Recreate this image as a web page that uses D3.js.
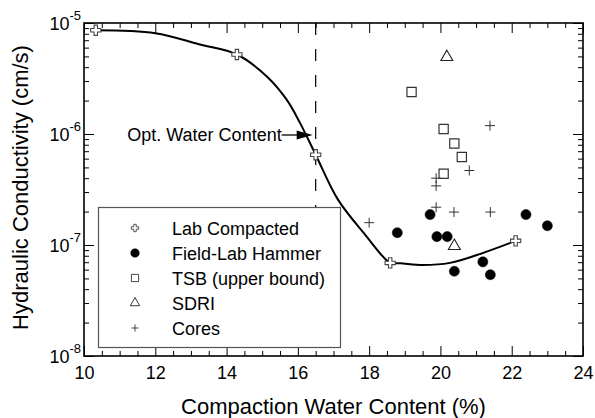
<!DOCTYPE html>
<html>
<head>
<meta charset="utf-8">
<script src="https://cdn.jsdelivr.net/npm/d3@7"></script>
<style>
  html, body { margin: 0; padding: 0; background: #fff; }
  svg { display: block; font-family: "Liberation Sans", Arial, Helvetica, sans-serif; }
</style>
</head>
<body>
<svg id="chart" width="595" height="418"></svg>
<script>
// Compaction water content (%) vs hydraulic conductivity (cm/s)

// Lab compacted specimens
const labW = [10.33, 14.29, 16.5, 18.59, 22.11];
const labK = [8.6e-6, 5.2e-6, 6.5e-7, 6.9e-8, 1.09e-7];

// Trend curve drawn through the lab compacted results
const fitW = [10.33, 12.0, 13.25, 14.29, 15.13, 15.69, 16.06, 16.5, 17.13, 17.93, 18.39, 18.59, 18.87, 19.5, 20.27, 21.2, 22.11];
const fitK = [8.6e-6, 8.1e-6, 6.4e-6, 5.2e-6, 3.3e-6, 2.03e-6, 1.26e-6, 6.5e-7, 2.55e-7, 1.19e-7, 7.85e-8, 6.9e-8, 6.85e-8, 6.6e-8, 6.9e-8, 8.5e-8, 1.09e-7];

// Field-lab hammer
const hamW = [18.79, 19.71, 19.90, 20.19, 20.39, 21.19, 21.40, 22.40, 23.0];
const hamK = [1.29e-7, 1.88e-7, 1.19e-7, 1.19e-7, 5.8e-8, 7.05e-8, 5.4e-8, 1.88e-7, 1.49e-7];

// Two-stage borehole (upper bound)
const tsbW = [19.19, 20.09, 20.39, 20.60, 20.09];
const tsbK = [2.39e-6, 1.11e-6, 8.2e-7, 6.2e-7, 4.38e-7];

// Sealed double-ring infiltrometer
const sdriW = [20.18, 20.39];
const sdriK = [4.93e-6, 9.8e-8];

// Cores
const coreW = [21.39, 20.81, 19.88, 19.88, 19.88, 20.38, 21.40, 18.0];
const coreK = [1.19e-6, 4.69e-7, 4.0e-7, 3.41e-7, 2.19e-7, 1.98e-7, 1.98e-7, 1.59e-7];

// Optimum water content
const optW = 16.5;

// Axis ticks
const xMajor = [10, 12, 14, 16, 18, 20, 22, 24];
const xMinor = d3.range(10.5, 24, 0.5).filter(v => v % 2 !== 0);
const yMajor = [1e-8, 1e-7, 1e-6, 1e-5];
const yExp = ["-8", "-7", "-6", "-5"];
const yMinor = [-8, -7, -6].flatMap(e => d3.range(2, 10).map(mm => mm * Math.pow(10, e)));

const legendLabels = ["Lab Compacted", "Field-Lab Hammer", "TSB (upper bound)", "SDRI", "Cores"];

const svg = d3.select("#chart");
const plot = { left: 84, right: 583, top: 23, bottom: 356 };

const x = d3.scaleLinear().domain([10, 24]).range([plot.left, plot.right]);
const y = d3.scaleLog().domain([1e-8, 1e-5]).range([plot.bottom, plot.top]);

const FONT = '"Liberation Sans", Arial, Helvetica, sans-serif';

function styleAxis(g) {
  g.select(".domain").remove();
  g.attr("font-family", FONT);
  g.selectAll(".tick line").attr("stroke", "#000").attr("stroke-width", 1);
}

// Bottom axis
svg.append("g").attr("transform", `translate(0,${plot.bottom})`)
  .call(d3.axisBottom(x).tickValues(xMinor).tickSize(-5).tickFormat(""))
  .call(styleAxis);
svg.append("g").attr("transform", `translate(0,${plot.bottom})`)
  .call(d3.axisBottom(x).tickValues(xMajor).tickSize(-10).tickPadding(10).tickFormat(d3.format("d")))
  .call(styleAxis)
  .call(g => g.selectAll(".tick text").attr("font-size", 18).attr("fill", "#000"));

// Top axis (mirrored ticks)
svg.append("g").attr("transform", `translate(0,${plot.top})`)
  .call(d3.axisTop(x).tickValues(xMinor).tickSize(-5).tickFormat(""))
  .call(styleAxis);
svg.append("g").attr("transform", `translate(0,${plot.top})`)
  .call(d3.axisTop(x).tickValues(xMajor).tickSize(-10).tickFormat(""))
  .call(styleAxis);

// Left axis
svg.append("g").attr("transform", `translate(${plot.left},0)`)
  .call(d3.axisLeft(y).tickValues(yMinor).tickSize(-5).tickFormat(""))
  .call(styleAxis);
svg.append("g").attr("transform", `translate(${plot.left},0)`)
  .call(d3.axisLeft(y).tickValues(yMajor).tickSize(-10).tickPadding(3).tickFormat(""))
  .call(styleAxis)
  .call(g => {
    g.selectAll(".tick text").each(function (d, i) {
      const t = d3.select(this).attr("fill", "#000").attr("dy", null).attr("y", 6.5);
      t.append("tspan").attr("font-size", 18).text("10");
      t.append("tspan").attr("font-size", 13).attr("dy", -10).text(yExp[i]);
    });
  });

// Right axis (mirrored ticks)
svg.append("g").attr("transform", `translate(${plot.right},0)`)
  .call(d3.axisRight(y).tickValues(yMinor).tickSize(-5).tickFormat(""))
  .call(styleAxis);
svg.append("g").attr("transform", `translate(${plot.right},0)`)
  .call(d3.axisRight(y).tickValues(yMajor).tickSize(-10).tickFormat(""))
  .call(styleAxis);

// Optimum water content marker line
svg.append("line")
  .attr("x1", x(optW)).attr("x2", x(optW))
  .attr("y1", plot.top).attr("y2", plot.bottom)
  .attr("stroke", "#000").attr("stroke-width", 1.2)
  .attr("stroke-dasharray", "12,14");

// Trend curve
const line = d3.line().x(d => x(d[0])).y(d => y(d[1])).curve(d3.curveCatmullRom.alpha(0.5));
svg.append("path")
  .attr("d", line(d3.zip(fitW, fitK)))
  .attr("fill", "none").attr("stroke", "#000").attr("stroke-width", 2);

// Thin "+" marker given its half-width
function plusPath(h) {
  const p = d3.path();
  p.moveTo(-h, 0); p.lineTo(h, 0);
  p.moveTo(0, -h); p.lineTo(0, h);
  return p.toString();
}

// Symbol shapes (argument is the symbol area, or half-width for the plus)
const sym = {
  lab: (s) => d3.symbol(d3.symbolCross, s)(),
  ham: (s) => d3.symbol(d3.symbolCircle, s)(),
  tsb: (s) => d3.symbol(d3.symbolSquare, s)(),
  sdri: (s) => d3.symbol(d3.symbolTriangle, s)(),
  core: (s) => plusPath(s)
};
const symStyle = {
  lab: { fill: "#fff", stroke: "#444", sw: 1.1 },
  ham: { fill: "#000", stroke: "#000", sw: 0.5 },
  tsb: { fill: "none", stroke: "#333", sw: 1.2 },
  sdri: { fill: "none", stroke: "#222", sw: 1.1 },
  core: { fill: "none", stroke: "#333", sw: 1.0 }
};
const symSize = { lab: 58, ham: 80, tsb: 85, sdri: 62, core: 5 };
const legSize = { lab: 30, ham: 58, tsb: 52, sdri: 38, core: 3.5 };

function drawSeries(key, ws, ks) {
  const st = symStyle[key];
  svg.append("g").selectAll("path")
    .data(d3.zip(ws, ks))
    .join("path")
    .attr("transform", d => `translate(${x(d[0])},${y(d[1])})`)
    .attr("d", sym[key](symSize[key]))
    .attr("fill", st.fill).attr("stroke", st.stroke).attr("stroke-width", st.sw);
}

drawSeries("tsb", tsbW, tsbK);
drawSeries("core", coreW, coreK);
drawSeries("sdri", sdriW, sdriK);
drawSeries("ham", hamW, hamK);
drawSeries("lab", labW, labK);

// Plot frame
svg.append("rect")
  .attr("x", plot.left).attr("y", plot.top)
  .attr("width", plot.right - plot.left).attr("height", plot.bottom - plot.top)
  .attr("fill", "none").attr("stroke", "#000").attr("stroke-width", 1.6);

// Annotation for optimum water content
const ay = y(1e-6) + 1;
const tipX = x(optW) - 3;
svg.append("text")
  .attr("x", tipX - 31).attr("y", ay + 6)
  .attr("text-anchor", "end").attr("font-size", 18).attr("fill", "#000")
  .text("Opt. Water Content");
svg.append("line")
  .attr("x1", tipX - 31).attr("x2", tipX - 14).attr("y1", ay).attr("y2", ay)
  .attr("stroke", "#000").attr("stroke-width", 1.3);
svg.append("path")
  .attr("d", `M${tipX},${ay} L${tipX - 16},${ay - 4.5} L${tipX - 16},${ay + 4.5} Z`)
  .attr("fill", "#000");

// Legend
const leg = svg.append("g");
leg.append("rect")
  .attr("x", 98.5).attr("y", 207.5).attr("width", 242).attr("height", 140)
  .attr("fill", "#fff").attr("stroke", "#555").attr("stroke-width", 1.2);
const legKeys = ["lab", "ham", "tsb", "sdri", "core"];
legKeys.forEach((k, i) => {
  const cy = 228 + i * 25;
  const st = symStyle[k];
  leg.append("path")
    .attr("transform", `translate(135,${cy})`)
    .attr("d", sym[k](legSize[k]))
    .attr("fill", st.fill).attr("stroke", st.stroke).attr("stroke-width", k === "ham" ? 0.5 : 0.9);
  leg.append("text")
    .attr("x", 172).attr("y", cy + 6.5)
    .attr("font-size", 18).attr("fill", "#000")
    .text(legendLabels[i]);
});

// Axis titles
svg.append("text")
  .attr("x", (plot.left + plot.right) / 2).attr("y", 414)
  .attr("text-anchor", "middle").attr("font-size", 22).attr("fill", "#000")
  .text("Compaction Water Content (%)");
svg.append("text")
  .attr("transform", `translate(27.5,187.5) rotate(-90)`)
  .attr("text-anchor", "middle").attr("font-size", 22).attr("fill", "#000")
  .text("Hydraulic Conductivity (cm/s)");
</script>
</body>
</html>
